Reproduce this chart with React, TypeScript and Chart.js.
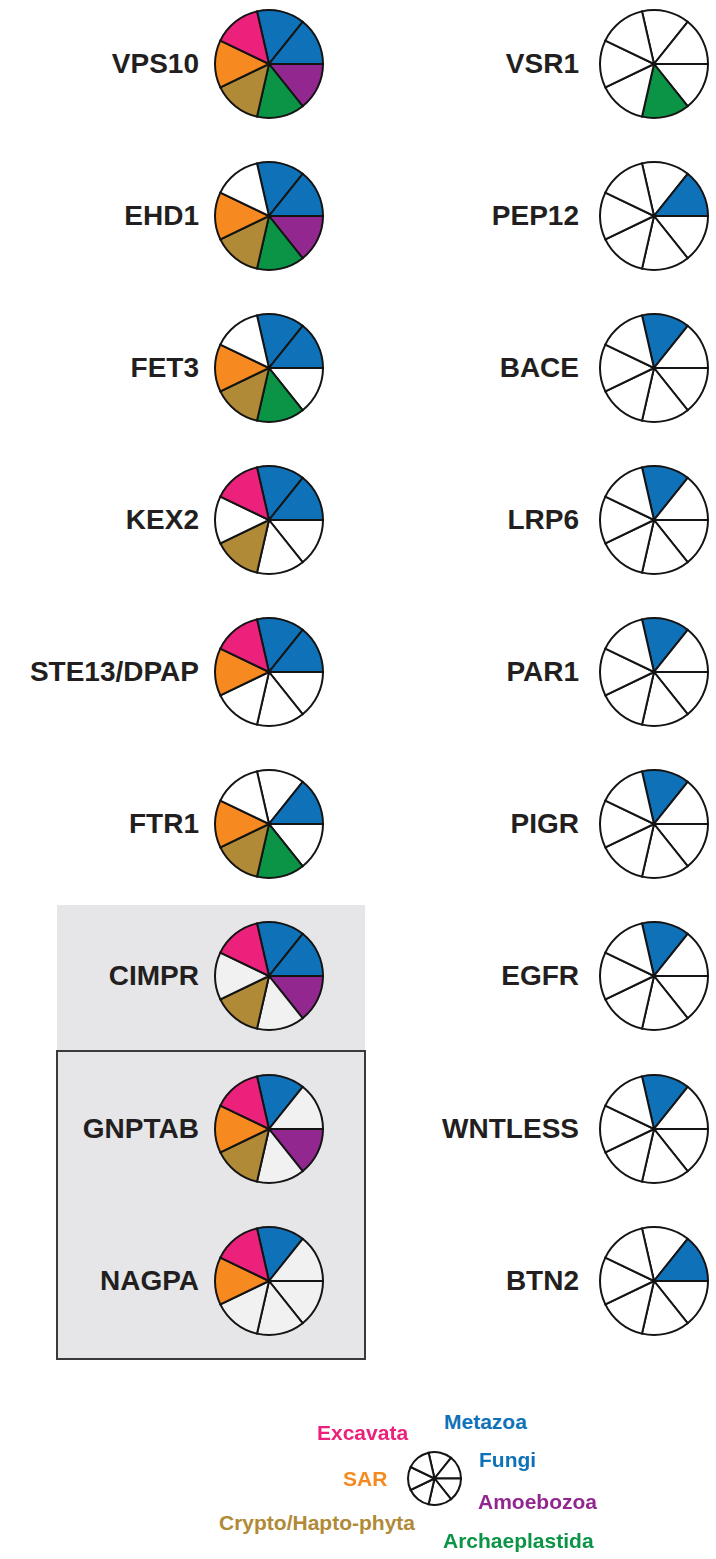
import React, { useEffect, useRef } from "react";
import { Chart, registerables } from "chart.js";

Chart.register(...registerables);

// Taxa in clockwise order, starting at the top slice
const taxa = ["Metazoa", "Fungi", "Amoebozoa", "Archaeplastida", "Crypto/Hapto-phyta", "SAR", "Excavata"];
const taxonColors = ["#0f72b9", "#0f72b9", "#92288f", "#0b9446", "#b08a37", "#f6891f", "#ec217b"];
const sliceValues = [1, 1, 1, 1, 1, 1, 1];

const leftProteins = ["VPS10", "EHD1", "FET3", "KEX2", "STE13/DPAP", "FTR1", "CIMPR", "GNPTAB", "NAGPA"];
const leftPresence = [
  [1, 1, 1, 1, 1, 1, 1],
  [1, 1, 1, 1, 1, 1, 0],
  [1, 1, 0, 1, 1, 1, 0],
  [1, 1, 0, 0, 1, 0, 1],
  [1, 1, 0, 0, 0, 1, 1],
  [0, 1, 0, 1, 1, 1, 0],
  [1, 1, 1, 0, 1, 0, 1],
  [1, 0, 1, 0, 1, 1, 1],
  [1, 0, 0, 0, 0, 1, 1],
];

const rightProteins = ["VSR1", "PEP12", "BACE", "LRP6", "PAR1", "PIGR", "EGFR", "WNTLESS", "BTN2"];
const rightPresence = [
  [0, 0, 0, 1, 0, 0, 0],
  [0, 1, 0, 0, 0, 0, 0],
  [1, 0, 0, 0, 0, 0, 0],
  [1, 0, 0, 0, 0, 0, 0],
  [1, 0, 0, 0, 0, 0, 0],
  [1, 0, 0, 0, 0, 0, 0],
  [1, 0, 0, 0, 0, 0, 0],
  [1, 0, 0, 0, 0, 0, 0],
  [0, 1, 0, 0, 0, 0, 0],
];

const legendPresence = [0, 0, 0, 0, 0, 0, 0];

const rowY = [64, 216, 368, 520, 672, 824, 976, 1129, 1281];
const LEFT_X = 269;
const RIGHT_X = 654;
const FONT = '"Liberation Sans", Arial, Helvetica, sans-serif';

type PieProps = { cx: number; cy: number; r: number; presence: number[]; blank: string; border: number };

function Pie({ cx, cy, r, presence, blank, border }: PieProps) {
  const ref = useRef<HTMLCanvasElement | null>(null);
  const size = Math.ceil(r * 2 + 8);
  useEffect(() => {
    if (!ref.current) return;
    const chart = new Chart(ref.current, {
      type: "pie",
      data: {
        labels: taxa,
        datasets: [
          {
            data: sliceValues,
            backgroundColor: presence.map((p, i) => (p ? taxonColors[i] : blank)),
            borderColor: "#141414",
            borderWidth: border,
            borderJoinStyle: "miter",
            radius: r,
          } as any,
        ],
      },
      options: {
        responsive: false,
        animation: false,
        events: [],
        rotation: -90 / 7,
        layout: { padding: 0 },
        plugins: { legend: { display: false }, tooltip: { enabled: false } },
      },
    });
    return () => chart.destroy();
  }, []);
  return (
    <canvas
      ref={ref}
      width={size}
      height={size}
      style={{ position: "absolute", left: cx - size / 2, top: cy - size / 2, width: size, height: size }}
    />
  );
}

function Label({ text, right, cy }: { text: string; right: number; cy: number }) {
  return (
    <div
      style={{
        position: "absolute",
        right: 716 - right,
        top: cy - 16,
        height: 32,
        lineHeight: "32px",
        fontFamily: FONT,
        fontWeight: 700,
        fontSize: 28,
        color: "#231f20",
        whiteSpace: "nowrap",
      }}
    >
      {text}
    </div>
  );
}

const legendLabels = [
  { text: "Metazoa", x: 444, y: 1422, c: 0 },
  { text: "Fungi", x: 479, y: 1460, c: 1 },
  { text: "Amoebozoa", x: 478, y: 1502, c: 2 },
  { text: "Archaeplastida", x: 443, y: 1541, c: 3 },
  { text: "Crypto/Hapto-phyta", x: 219, y: 1523, c: 4 },
  { text: "SAR", x: 343, y: 1479, c: 5 },
  { text: "Excavata", x: 317, y: 1433, c: 6 },
];

export default function App() {
  return (
    <div
      style={{
        position: "absolute",
        left: 0,
        top: 0,
        width: 716,
        height: 1559,
        background: "#ffffff",
        overflow: "hidden",
      }}
    >
      <div style={{ position: "absolute", left: 57, top: 905, width: 308, height: 145, background: "#e6e6e8" }} />
      <div
        style={{
          position: "absolute",
          left: 56,
          top: 1050,
          width: 306,
          height: 306,
          background: "#e6e6e8",
          border: "2px solid #3a3a3a",
        }}
      />
      {leftProteins.map((p, i) => (
        <React.Fragment key={"l" + i}>
          <Label text={p} right={199} cy={rowY[i]} />
          <Pie cx={LEFT_X} cy={rowY[i]} r={54} presence={leftPresence[i]} blank={i >= 6 ? "#f1f1f2" : "#ffffff"} border={2} />
        </React.Fragment>
      ))}
      {rightProteins.map((p, i) => (
        <React.Fragment key={"r" + i}>
          <Label text={p} right={579} cy={rowY[i]} />
          <Pie cx={RIGHT_X} cy={rowY[i]} r={54} presence={rightPresence[i]} blank="#ffffff" border={2} />
        </React.Fragment>
      ))}
      <Pie cx={434} cy={1478} r={26.5} presence={legendPresence} blank="#ffffff" border={2} />
      {legendLabels.map((l) => (
        <div
          key={l.text}
          style={{
            position: "absolute",
            left: l.x,
            top: l.y - 13,
            height: 26,
            lineHeight: "26px",
            fontFamily: FONT,
            fontWeight: 700,
            fontSize: 21,
            color: taxonColors[l.c],
            whiteSpace: "nowrap",
          }}
        >
          {l.text}
        </div>
      ))}
    </div>
  );
}
